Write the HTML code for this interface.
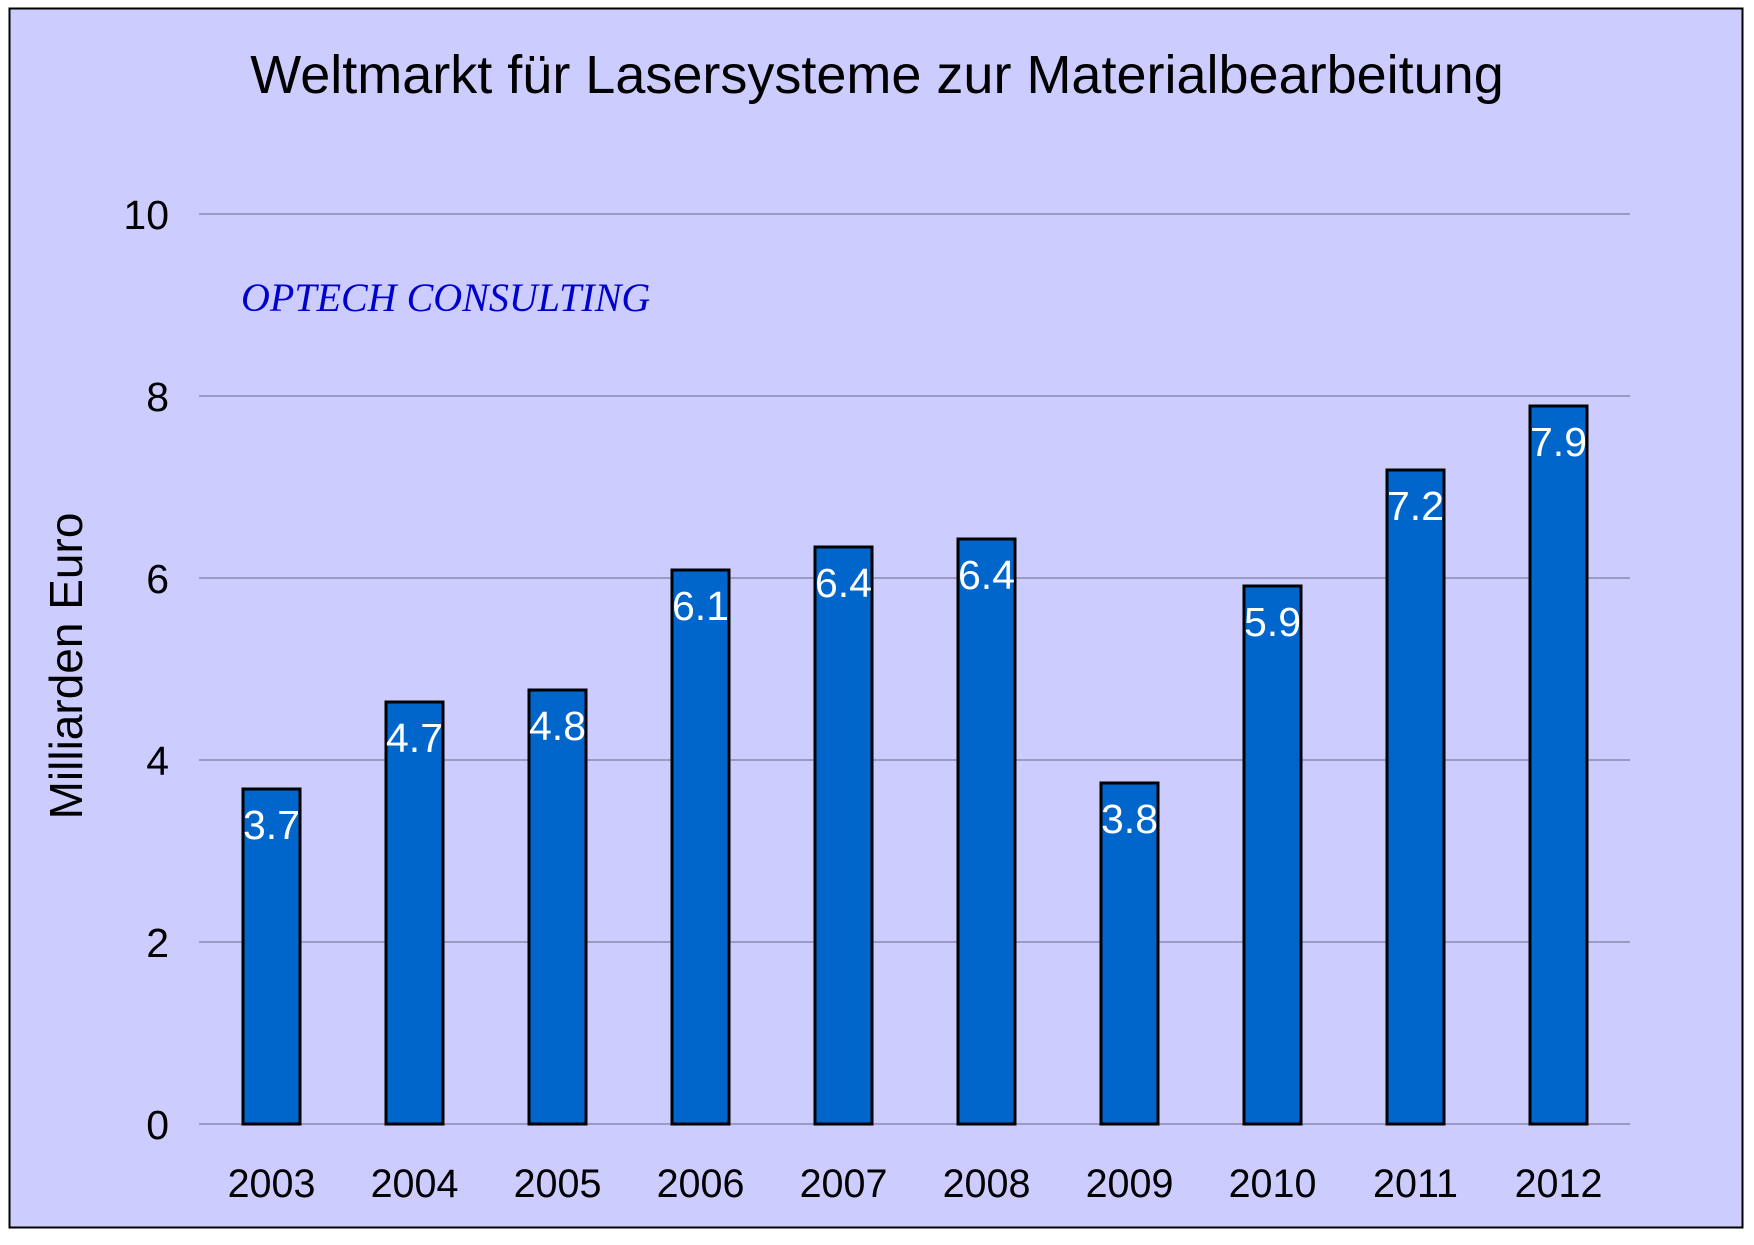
<!DOCTYPE html>
<html><head><meta charset="utf-8"><style>body{margin:0;background:#fff}</style></head><body>
<svg width="1754" height="1240" xmlns="http://www.w3.org/2000/svg" font-family="Liberation Sans, sans-serif">
<rect x="0" y="0" width="1754" height="1240" fill="#fff"/>
<rect x="9.5" y="8.5" width="1733" height="1219" fill="#ccccff" stroke="#000" stroke-width="2"/>
<text x="877" y="93" font-size="54" text-anchor="middle" fill="#000">Weltmarkt für Lasersysteme zur Materialbearbeitung</text>
<g stroke="#8a8ab0" stroke-width="1.5">
<line x1="199" y1="214" x2="1630" y2="214"/>
<line x1="199" y1="396" x2="1630" y2="396"/>
<line x1="199" y1="578" x2="1630" y2="578"/>
<line x1="199" y1="760" x2="1630" y2="760"/>
<line x1="199" y1="942" x2="1630" y2="942"/>
<line x1="199" y1="1124" x2="1630" y2="1124"/>
</g>
<g font-size="41" text-anchor="end" fill="#000">
<text x="169" y="229">10</text><text x="169" y="411">8</text><text x="169" y="593">6</text>
<text x="169" y="775">4</text><text x="169" y="957">2</text><text x="169" y="1139">0</text>
</g>
<text x="241" y="311" font-family="Liberation Serif, serif" font-style="italic" font-size="40" fill="#0000cc">OPTECH CONSULTING</text>
<text transform="translate(82,666) rotate(-90)" font-size="46" text-anchor="middle" fill="#000">Milliarden Euro</text>
<g fill="#0066cc" stroke="#000" stroke-width="3">
<rect x="243" y="789" width="57" height="335"/>
<rect x="386" y="702" width="57" height="422"/>
<rect x="529" y="690" width="57" height="434"/>
<rect x="672" y="570" width="57" height="554"/>
<rect x="815" y="547" width="57" height="577"/>
<rect x="958" y="539" width="57" height="585"/>
<rect x="1101" y="783" width="57" height="341"/>
<rect x="1244" y="586" width="57" height="538"/>
<rect x="1387" y="470" width="57" height="654"/>
<rect x="1530" y="406" width="57" height="718"/>
</g>
<g font-size="41" text-anchor="middle" fill="#fff">
<text x="271.5" y="839">3.7</text><text x="414.5" y="752">4.7</text><text x="557.5" y="740">4.8</text>
<text x="700.5" y="620">6.1</text><text x="843.5" y="597">6.4</text><text x="986.5" y="589">6.4</text>
<text x="1129.5" y="833">3.8</text><text x="1272.5" y="636">5.9</text><text x="1415.5" y="520">7.2</text>
<text x="1558.5" y="456">7.9</text>
</g>
<g font-size="39.5" text-anchor="middle" fill="#000">
<text x="271.5" y="1197">2003</text><text x="414.5" y="1197">2004</text><text x="557.5" y="1197">2005</text>
<text x="700.5" y="1197">2006</text><text x="843.5" y="1197">2007</text><text x="986.5" y="1197">2008</text>
<text x="1129.5" y="1197">2009</text><text x="1272.5" y="1197">2010</text><text x="1415.5" y="1197">2011</text>
<text x="1558.5" y="1197">2012</text>
</g>
</svg>
</body></html>
